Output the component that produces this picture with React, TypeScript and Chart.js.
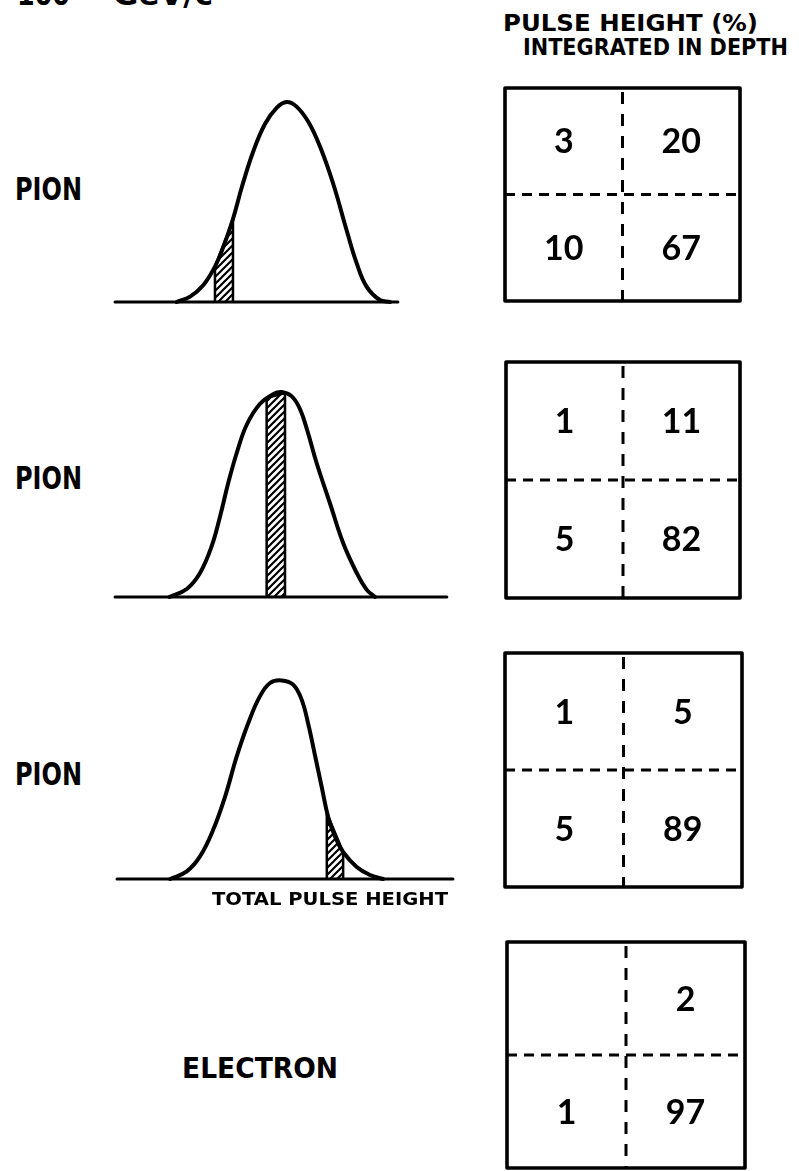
import React, { useEffect, useLayoutEffect, useRef } from 'react';
import { Chart, registerables } from 'chart.js';

Chart.register(...registerables);

// Total pulse height spectra (pulse height 0–100, relative counts) for the three pion samples
const pion1Pulse = [18.1, 22.1, 26.0, 29.4, 31.9, 34.6, 37.4, 40.6, 44.1, 47.6, 50.5, 53.4, 56.9, 60.3, 64.2, 68.1, 71.1, 74.0, 77.9, 80.9];
const pion1Counts = [0, 2.7, 8.5, 17.7, 27.7, 41, 58, 75, 89, 97.2, 100, 97.7, 90, 77.7, 59, 36, 19.3, 7.7, 1, 0];

const pion2Pulse = [16.0, 21.1, 25.0, 28.4, 30.9, 33.3, 35.8, 38.7, 42.6, 46.6, 49.0, 52.0, 54.4, 56.6, 59.3, 63.2, 67.1, 71.1, 74.0, 76.5];
const pion2Counts = [0, 4, 12, 25.3, 40.3, 57, 72, 86, 96.5, 101.5, 102.5, 100.3, 94, 83, 67, 47, 27, 12, 3.7, 0];

const pion3Pulse = [16.2, 21.1, 25.0, 28.9, 32.4, 35.8, 39.2, 42.6, 45.6, 49.0, 52.4, 54.9, 56.9, 58.8, 60.8, 62.7, 64.7, 67.1, 71.1, 75.0, 78.9];
const pion3Counts = [0, 3.8, 11.3, 24.7, 41.3, 61.3, 78, 91.3, 98, 99.3, 97.2, 89.7, 77, 62, 46, 31, 21.3, 13.5, 6.0, 2.0, 0];

// Selected total-pulse-height windows (hatched) and the counts at their edges
const pion1Window = [29.4, 34.7];
const pion1WindowCounts = [17.7, 41];
const pion2Window = [44.6, 50.0];
const pion2WindowCounts = [99.5, 102];
const pion3Window = [62.3, 67.1];
const pion3WindowCounts = [33, 13.5];

// Extent of each pulse height axis line
const pion1Axis = [0, 83.2];
const pion2Axis = [0, 97.6];
const pion3Axis = [0.6, 99.4];

// Pulse height (%) integrated in depth, cells in reading order:
// top-left, top-right, bottom-left, bottom-right
const pion1Cells = [3, 20, 10, 67];
const pion2Cells = [1, 11, 5, 82];
const pion3Cells = [1, 5, 5, 89];
const electronCells = [null, 2, 1, 97];

const particles = ['PION', 'PION', 'PION', 'ELECTRON'];

const INK = '#000';

function hatchPattern(): CanvasPattern | string {
  const tile = document.createElement('canvas');
  tile.width = 7;
  tile.height = 7;
  const c = tile.getContext('2d');
  if (!c) return INK;
  c.strokeStyle = INK;
  c.lineWidth = 2.2;
  c.lineCap = 'square';
  const seg = (x0: number, y0: number, x1: number, y1: number) => {
    c.beginPath();
    c.moveTo(x0, y0);
    c.lineTo(x1, y1);
    c.stroke();
  };
  seg(0, 7, 7, 0);
  seg(-3.5, 3.5, 3.5, -3.5);
  seg(3.5, 10.5, 10.5, 3.5);
  const p = c.createPattern(tile, 'repeat');
  return p || INK;
}

type CurveProps = {
  pulse: number[];
  counts: number[];
  win: number[];
  winCounts: number[];
  axis: number[];
  left: number;
  top: number;
};

function SpectrumChart({ pulse, counts, win, winCounts, axis, left, top }: CurveProps) {
  const ref = useRef<HTMLCanvasElement>(null);
  useEffect(() => {
    if (!ref.current) return;
    const chart = new Chart(ref.current, {
      type: 'line',
      data: {
        datasets: [
          {
            data: pulse.map((x, i) => ({ x, y: counts[i] })),
            borderColor: INK,
            borderWidth: 4,
            pointRadius: 0,
            tension: 0.4,
            borderCapStyle: 'round',
            borderJoinStyle: 'round',
            fill: false,
            clip: false,
          },
          {
            data: [
              { x: axis[0], y: 0 },
              { x: axis[1], y: 0 },
            ],
            borderColor: INK,
            borderWidth: 3,
            pointRadius: 0,
            borderCapStyle: 'round',
            fill: false,
            clip: false,
          },
          {
            data: [
              { x: win[0], y: 0 },
              { x: win[0], y: winCounts[0] },
              { x: win[1], y: winCounts[1] },
              { x: win[1], y: 0 },
            ],
            borderColor: INK,
            borderWidth: 2.5,
            pointRadius: 0,
            tension: 0,
            fill: 'origin',
            backgroundColor: hatchPattern() as any,
            clip: false,
          },
        ],
      },
      options: {
        responsive: false,
        animation: false,
        events: [],
        layout: { padding: { left: 15, right: 15, top: 15, bottom: 15 } },
        scales: {
          x: { type: 'linear', min: 0, max: 100, display: false },
          y: { type: 'linear', min: 0, max: 105, display: false },
        },
        plugins: { legend: { display: false }, tooltip: { enabled: false } },
      },
    });
    return () => chart.destroy();
  }, []);
  return (
    <canvas
      ref={ref}
      width={370}
      height={240}
      style={{ position: 'absolute', left, top }}
    />
  );
}

// Draws the cell frame, the dashed dividers and the cell values on a 2x2 grid
const cellGridPlugin = {
  id: 'cellGrid',
  afterDatasetsDraw(chart: any) {
    const { ctx, chartArea: a, scales } = chart;
    const xs = scales.x;
    const ys = scales.y;
    ctx.save();
    ctx.strokeStyle = INK;
    ctx.lineCap = 'butt';
    ctx.lineWidth = 3;
    const ym = ys.getPixelForValue(1);
    ctx.setLineDash([10, 7]);
    ctx.beginPath();
    ctx.moveTo(a.left, ym);
    ctx.lineTo(a.right, ym);
    ctx.stroke();
    const xm = xs.getPixelForValue(1);
    ctx.setLineDash([12, 10]);
    ctx.lineDashOffset = -4;
    ctx.beginPath();
    ctx.moveTo(xm, a.top);
    ctx.lineTo(xm, a.bottom);
    ctx.stroke();
    ctx.setLineDash([]);
    ctx.lineWidth = 3.6;
    ctx.lineJoin = 'round';
    ctx.strokeRect(a.left, a.top, a.right - a.left, a.bottom - a.top);

    const size = 34;
    ctx.fillStyle = INK;
    ctx.font = `bold ${size}px Lato, "DejaVu Sans", sans-serif`;
    ctx.textAlign = 'center';
    ctx.textBaseline = 'alphabetic';
    const meta = chart.getDatasetMeta(0);
    const pts = chart.data.datasets[0].data;
    meta.data.forEach((el: any, i: number) => {
      const v = pts[i].v;
      if (v === null || v === undefined) return;
      ctx.fillText(String(v), el.x, el.y + size * 0.36);
    });
    ctx.restore();
  },
};

type GridProps = { cells: (number | null)[]; l: number; t: number; r: number; b: number };

function CellGrid({ cells, l, t, r, b }: GridProps) {
  const ref = useRef<HTMLCanvasElement>(null);
  const pad = 10;
  useEffect(() => {
    if (!ref.current) return;
    const chart = new Chart(ref.current, {
      type: 'scatter',
      data: {
        datasets: [
          {
            data: cells.map((v, i) => ({ x: (i % 2) + 0.5, y: 1.5 - Math.floor(i / 2), v })) as any,
            pointRadius: 0,
            showLine: false,
          },
        ],
      },
      options: {
        responsive: false,
        animation: false,
        events: [],
        layout: { padding: pad },
        scales: {
          x: { type: 'linear', min: 0, max: 2, display: false },
          y: { type: 'linear', min: 0, max: 2, display: false },
        },
        plugins: { legend: { display: false }, tooltip: { enabled: false } },
      },
      plugins: [cellGridPlugin],
    });
    return () => chart.destroy();
  }, []);
  return (
    <canvas
      ref={ref}
      width={r - l + pad * 2}
      height={b - t + pad * 2}
      style={{ position: 'absolute', left: l - pad, top: t - pad }}
    />
  );
}

type LabelProps = { text: string; x: number; capTop: number; size: number; width: number };

// Hand-lettered style caption, squeezed to its lettering width
function Label({ text, x, capTop, size, width }: LabelProps) {
  const ref = useRef<HTMLSpanElement>(null);
  useLayoutEffect(() => {
    const el = ref.current;
    if (!el) return;
    el.style.transform = 'none';
    const w = el.getBoundingClientRect().width;
    if (w > 0) el.style.transform = `scaleX(${width / w})`;
  }, [text, width]);
  return (
    <span
      ref={ref}
      style={{
        position: 'absolute',
        left: x,
        top: capTop - 0.117 * size,
        fontFamily: '"DejaVu Sans", sans-serif',
        fontWeight: 700,
        fontSize: size,
        lineHeight: 1,
        whiteSpace: 'pre',
        transformOrigin: '0 0',
        color: INK,
      }}
    >
      {text}
    </span>
  );
}

export default function App() {
  return (
    <div
      style={{
        position: 'absolute',
        left: 0,
        top: 0,
        width: 799,
        height: 1171,
        overflow: 'hidden',
        background: '#fff',
      }}
    >
      <SpectrumChart pulse={pion1Pulse} counts={pion1Counts} win={pion1Window} winCounts={pion1WindowCounts} axis={pion1Axis} left={100} top={77} />
      <SpectrumChart pulse={pion2Pulse} counts={pion2Counts} win={pion2Window} winCounts={pion2WindowCounts} axis={pion2Axis} left={100} top={372} />
      <SpectrumChart pulse={pion3Pulse} counts={pion3Counts} win={pion3Window} winCounts={pion3WindowCounts} axis={pion3Axis} left={100} top={654} />

      <CellGrid cells={pion1Cells} l={505} t={88} r={740} b={301} />
      <CellGrid cells={pion2Cells} l={506} t={362} r={740} b={598} />
      <CellGrid cells={pion3Cells} l={505} t={653} r={742} b={887} />
      <CellGrid cells={electronCells} l={507} t={942} r={745} b={1168} />

      <Label text="100" x={17} capTop={-17} size={30} width={53} />
      <Label text="GeV/c" x={113} capTop={-17} size={30} width={100} />
      <Label text="PULSE HEIGHT (%)" x={503} capTop={15} size={23} width={255} />
      <Label text="INTEGRATED IN DEPTH" x={523} capTop={39} size={23} width={265} />

      <Label text={particles[0]} x={15} capTop={177} size={32} width={67} />
      <Label text={particles[1]} x={15} capTop={466} size={32} width={67} />
      <Label text={particles[2]} x={15} capTop={762} size={32} width={67} />
      <Label text={particles[3]} x={182} capTop={1057} size={29} width={156} />

      <Label text="TOTAL PULSE HEIGHT" x={212} capTop={892} size={18} width={236} />
    </div>
  );
}
